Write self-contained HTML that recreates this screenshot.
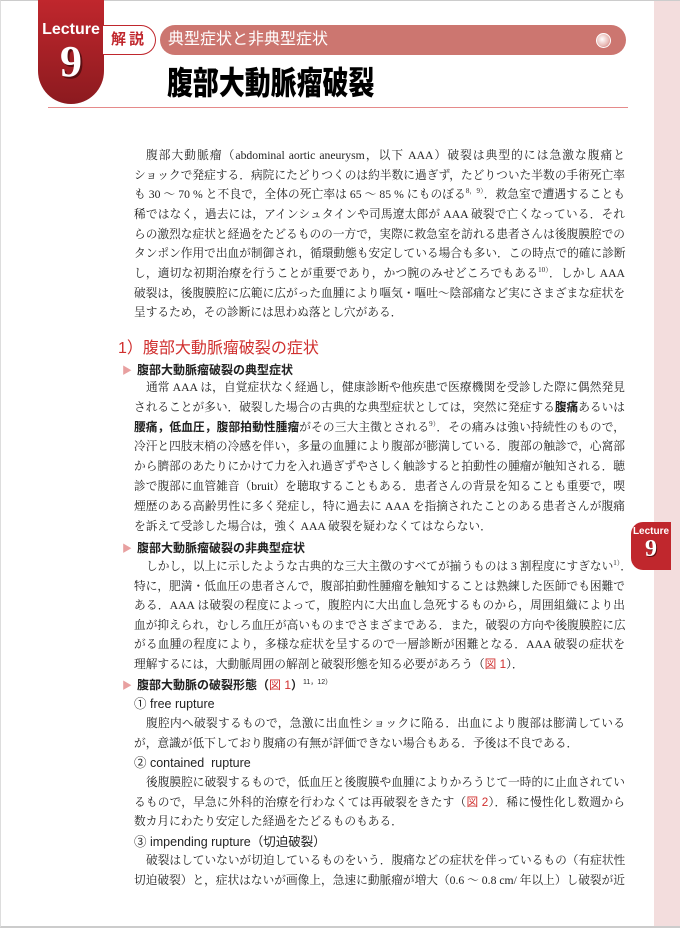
<!DOCTYPE html>
<html><head><meta charset="utf-8">
<style>
body{margin:0;width:680px;height:928px;position:relative;background:#fff;overflow:hidden;font-family:"Liberation Serif","Noto Serif CJK SC",serif;color:#222}
.frame{position:absolute;left:0;top:0;width:679px;height:925px;border-top:1px solid #ccc;border-left:1px solid #ddd;border-bottom:2px solid #ccc}
.strip{position:absolute;left:654px;top:0;width:26px;height:928px;background:#f3dddd}
.badge{position:absolute;left:38px;top:0;width:66px;height:104px;background:linear-gradient(#c0272d,#8c1a1f);border-radius:0 0 33px 33px;color:#fff;text-align:center;font-family:"Liberation Sans",sans-serif;font-weight:bold}
.badge .l{position:absolute;top:21px;width:100%;font-size:16px}
.badge .n{position:absolute;top:36px;width:100%;font-size:44px;font-family:"Liberation Serif",serif;text-shadow:2px 2px 0 #5a0f12}
.kai{position:absolute;left:103px;top:25px;width:52px;height:28px;border:1.5px solid #c0272d;border-left:none;border-radius:0 15px 15px 0;background:#fff;color:#c0272d;font:bold 15px "Liberation Sans","Noto Sans CJK JP",sans-serif;line-height:28px;text-align:center;letter-spacing:3px}
.pill{position:absolute;left:160px;top:25px;width:466px;height:30px;border-radius:15px;background:#cc7670;color:#fff;font:16px "Liberation Sans","Noto Sans CJK JP",sans-serif;line-height:30px;padding-left:8px;box-sizing:border-box}
.dot{position:absolute;left:436px;top:8px;width:13px;height:13px;border-radius:50%;background:radial-gradient(circle at 40% 40%,#fff,#e8b8b4 60%,#b55);border:1px solid #fff}
.title{position:absolute;left:167px;top:60px;font:900 32px "Noto Sans CJK JP",sans-serif;color:#000;line-height:42px;transform:scaleX(0.81);transform-origin:0 0;white-space:nowrap}
.rule{position:absolute;left:48px;top:107px;width:580px;height:1px;background:#e58a8a}
.t{position:absolute;left:134px;width:491px;font-size:11.7px;line-height:16px;white-space:nowrap;text-align:justify;text-align-last:justify}
.t.e{text-align-last:left}
.t.i{left:146px;width:479px}
.h1{position:absolute;left:118px;top:340px;font:16px/18px "Liberation Sans","Noto Sans CJK JP",sans-serif;color:#d0302f}
.h2{position:absolute;left:122px;font:bold 12px "Liberation Sans","Noto Sans CJK JP",sans-serif;color:#222;line-height:16px}
.h2:before{content:"▶";color:#e8a0a0;font-size:10px;margin-right:5px}
.h3{position:absolute;left:134px;font:12.5px "Liberation Sans","Noto Sans CJK JP",sans-serif;line-height:16px}
sup{font-size:7px;vertical-align:5px;line-height:0}
b{font-family:"Liberation Sans","Noto Sans CJK JP",sans-serif}
.r{color:#d0302f;font-family:"Liberation Sans","Noto Sans CJK JP",sans-serif}
.tab{position:absolute;left:631px;top:522px;width:40px;height:48px;background:#c0272d;border-radius:12px 0 0 12px;color:#fff;text-align:center;font-family:"Liberation Sans",sans-serif;font-weight:bold}
.tab .l{font-size:10px;margin-top:4px}
.tab .n{font-size:24px;line-height:24px;font-family:"Liberation Serif",serif;text-shadow:1px 1px 0 #5a0f12}
</style></head><body>
<div class="strip"></div>
<div class="frame"></div>
<div class="badge"><div class="l">Lecture</div><div class="n">9</div></div>
<div class="kai">解説</div>
<div class="pill">典型症状と非典型症状<div class="dot"></div></div>
<div class="title">腹部大動脈瘤破裂</div>
<div class="rule"></div>

<div class="t i" style="top:148px">腹部大動脈瘤（abdominal aortic aneurysm，以下 AAA）破裂は典型的には急激な腹痛と</div>
<div class="t" style="top:168px">ショックで発症する．病院にたどりつくのは約半数に過ぎず，たどりついた半数の手術死亡率</div>
<div class="t" style="top:187px">も 30 ～ 70 % と不良で，全体の死亡率は 65 ～ 85 % にものぼる<sup>8，9）</sup>．救急室で遭遇することも</div>
<div class="t" style="top:207px">稀ではなく，過去には，アインシュタインや司馬遼太郎が AAA 破裂で亡くなっている．それ</div>
<div class="t" style="top:227px">らの激烈な症状と経過をたどるものの一方で，実際に救急室を訪れる患者さんは後腹膜腔での</div>
<div class="t" style="top:246px">タンポン作用で出血が制御され，循環動態も安定している場合も多い．この時点で的確に診断</div>
<div class="t" style="top:266px">し，適切な初期治療を行うことが重要であり，かつ腕のみせどころでもある<sup>10）</sup>．しかし AAA</div>
<div class="t" style="top:286px">破裂は，後腹膜腔に広範に広がった血腫により嘔気・嘔吐～陰部痛など実にさまざまな症状を</div>
<div class="t e" style="top:305px">呈するため，その診断には思わぬ落とし穴がある．</div>

<div class="h1">1）腹部大動脈瘤破裂の症状</div>
<div class="h2" style="top:362px">腹部大動脈瘤破裂の典型症状</div>
<div class="t i" style="top:380px">通常 AAA は，自覚症状なく経過し，健康診断や他疾患で医療機関を受診した際に偶然発見</div>
<div class="t" style="top:400px">されることが多い．破裂した場合の古典的な典型症状としては，突然に発症する<b>腹痛</b>あるいは</div>
<div class="t" style="top:420px"><b>腰痛，低血圧，腹部拍動性腫瘤</b>がその三大主徴とされる<sup>9）</sup>．その痛みは強い持続性のもので，</div>
<div class="t" style="top:439px">冷汗と四肢末梢の冷感を伴い，多量の血腫により腹部が膨満している．腹部の触診で，心窩部</div>
<div class="t" style="top:459px">から臍部のあたりにかけて力を入れ過ぎずやさしく触診すると拍動性の腫瘤が触知される．聴</div>
<div class="t" style="top:479px">診で腹部に血管雑音（bruit）を聴取することもある．患者さんの背景を知ることも重要で，喫</div>
<div class="t" style="top:499px">煙歴のある高齢男性に多く発症し，特に過去に AAA を指摘されたことのある患者さんが腹痛</div>
<div class="t e" style="top:519px">を訴えて受診した場合は，強く AAA 破裂を疑わなくてはならない．</div>

<div class="h2" style="top:540px">腹部大動脈瘤破裂の非典型症状</div>
<div class="t i" style="top:559px">しかし，以上に示したような古典的な三大主徴のすべてが揃うものは 3 割程度にすぎない<sup>1）</sup>．</div>
<div class="t" style="top:579px">特に，肥満・低血圧の患者さんで，腹部拍動性腫瘤を触知することは熟練した医師でも困難で</div>
<div class="t" style="top:598px">ある．AAA は破裂の程度によって，腹腔内に大出血し急死するものから，周囲組織により出</div>
<div class="t" style="top:618px">血が抑えられ，むしろ血圧が高いものまでさまざまである．また，破裂の方向や後腹膜腔に広</div>
<div class="t" style="top:637px">がる血腫の程度により，多様な症状を呈するので一層診断が困難となる．AAA 破裂の症状を</div>
<div class="t e" style="top:657px">理解するには，大動脈周囲の解剖と破裂形態を知る必要があろう（<span class="r">図 1</span>）．</div>

<div class="h2" style="top:677px">腹部大動脈の破裂形態（<span class="r" style="font-weight:normal">図 1</span>）<sup style="font-weight:normal">11，12）</sup></div>
<div class="h3" style="top:696px">① free rupture</div>
<div class="t i" style="top:716px">腹腔内へ破裂するもので，急激に出血性ショックに陥る．出血により腹部は膨満している</div>
<div class="t e" style="top:736px">が，意識が低下しており腹痛の有無が評価できない場合もある．予後は不良である．</div>
<div class="h3" style="top:755px">② contained&nbsp; rupture</div>
<div class="t i" style="top:775px">後腹膜腔に破裂するもので，低血圧と後腹膜や血腫によりかろうじて一時的に止血されてい</div>
<div class="t" style="top:795px">るもので，早急に外科的治療を行わなくては再破裂をきたす（<span class="r">図 2</span>）．稀に慢性化し数週から</div>
<div class="t e" style="top:814px">数カ月にわたり安定した経過をたどるものもある．</div>
<div class="h3" style="top:834px">③ impending rupture（切迫破裂）</div>
<div class="t i" style="top:853px">破裂はしていないが切迫しているものをいう．腹痛などの症状を伴っているもの（有症状性</div>
<div class="t" style="top:873px">切迫破裂）と，症状はないが画像上，急速に動脈瘤が増大（0.6 ～ 0.8 cm/ 年以上）し破裂が近</div>

<div class="tab"><div class="l">Lecture</div><div class="n">9</div></div>
</body></html>
